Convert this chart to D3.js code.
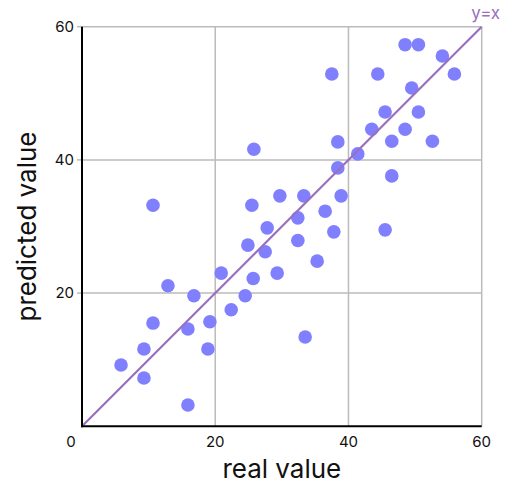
<!DOCTYPE html>
<html><head><meta charset="utf-8">
<script src="https://cdn.jsdelivr.net/npm/d3@7"></script>
<style>body{margin:0;background:#fff;}svg{display:block;font-family:Inter,"Noto Sans",sans-serif;}</style>
</head><body>
<svg id="c" width="509" height="486"></svg>
<script>
const realValues = [5.86,9.3,9.3,10.66,10.66,12.9,15.9,15.9,16.8,18.9,19.2,20.9,22.4,24.5,24.9,25.5,25.7,25.8,27.8,27.5,29.3,29.7,32.4,32.4,33.3,33.5,35.3,36.5,37.5,37.8,38.4,38.4,38.9,41.4,43.5,44.4,45.5,45.5,46.5,46.5,48.5,48.5,49.5,50.5,50.5,52.6,54.1,55.9];
const predictedValues = [9.2,11.6,7.25,33.2,15.5,21.1,3.2,14.6,19.6,11.6,15.7,23.0,17.5,19.6,27.2,33.2,22.2,41.6,29.8,26.2,23.0,34.6,27.9,31.3,34.6,13.4,24.8,32.3,52.9,29.2,38.8,42.7,34.6,40.9,44.6,52.9,47.2,29.5,37.6,42.8,44.6,57.3,50.8,57.3,47.2,42.8,55.6,52.9];
const xTicks = [20,40,60];
const yTicks = [20,40,60];
const xLabel = "real value", yLabel = "predicted value", lineLabel = "y=x";

const svg = d3.select("#c");
const L=82, R=481.7, T=26.7, B=426.3;
const x = d3.scaleLinear().domain([0,60]).range([L,R]);
const y = d3.scaleLinear().domain([0,60]).range([B,T]);

const g = svg.append("g");
g.selectAll(".gx").data(xTicks).join("line").attr("x1",d=>x(d)).attr("x2",d=>x(d)).attr("y1",T).attr("y2",B).attr("stroke","#bbb").attr("stroke-width",1.5);
g.selectAll(".gy").data(yTicks).join("line").attr("y1",d=>y(d)).attr("y2",d=>y(d)).attr("x1",L).attr("x2",R).attr("stroke","#bbb").attr("stroke-width",1.5);
g.selectAll(".ty").data(yTicks).join("line").attr("y1",d=>y(d)).attr("y2",d=>y(d)).attr("x1",L-5).attr("x2",L).attr("stroke","#bbb").attr("stroke-width",1.5);

g.selectAll("circle").data(realValues.map((v,i)=>[v,predictedValues[i]])).join("circle")
 .attr("cx",d=>x(d[0])).attr("cy",d=>y(d[1])).attr("r",6.8).attr("fill","#8080ff");

g.append("line").attr("x1",x(0)).attr("y1",y(0)).attr("x2",x(60)).attr("y2",y(60)).attr("stroke","#9b6fbf").attr("stroke-width",2.2);
g.append("text").attr("x",x(60)+4).attr("y",y(60)-8).attr("text-anchor","middle").attr("fill","#9b6fbf").attr("font-size",17).text(lineLabel);

g.append("line").attr("x1",L).attr("x2",L).attr("y1",T).attr("y2",B+1).attr("stroke","#000").attr("stroke-width",2);
g.append("line").attr("x1",L-1).attr("x2",R).attr("y1",B).attr("y2",B).attr("stroke","#000").attr("stroke-width",2);

g.selectAll(".lx").data(xTicks).join("text").attr("x",d=>x(d)).attr("y",447).attr("text-anchor","middle").attr("font-size",15).attr("fill","#111").text(d=>d);
g.append("text").attr("x",71).attr("y",447).attr("text-anchor","middle").attr("font-size",15).attr("fill","#111").text("0");
g.selectAll(".ly").data(yTicks).join("text").attr("x",L-8).attr("y",d=>y(d)+5).attr("text-anchor","end").attr("font-size",15).attr("fill","#111").text(d=>d);

svg.append("text").attr("x",(L+R)/2).attr("y",478).attr("text-anchor","middle").attr("font-size",26).attr("fill","#111").text(xLabel);
svg.append("text").attr("transform",`translate(36,${(T+B)/2}) rotate(-90)`).attr("text-anchor","middle").attr("font-size",26).attr("fill","#111").text(yLabel);
</script>
</body></html>
